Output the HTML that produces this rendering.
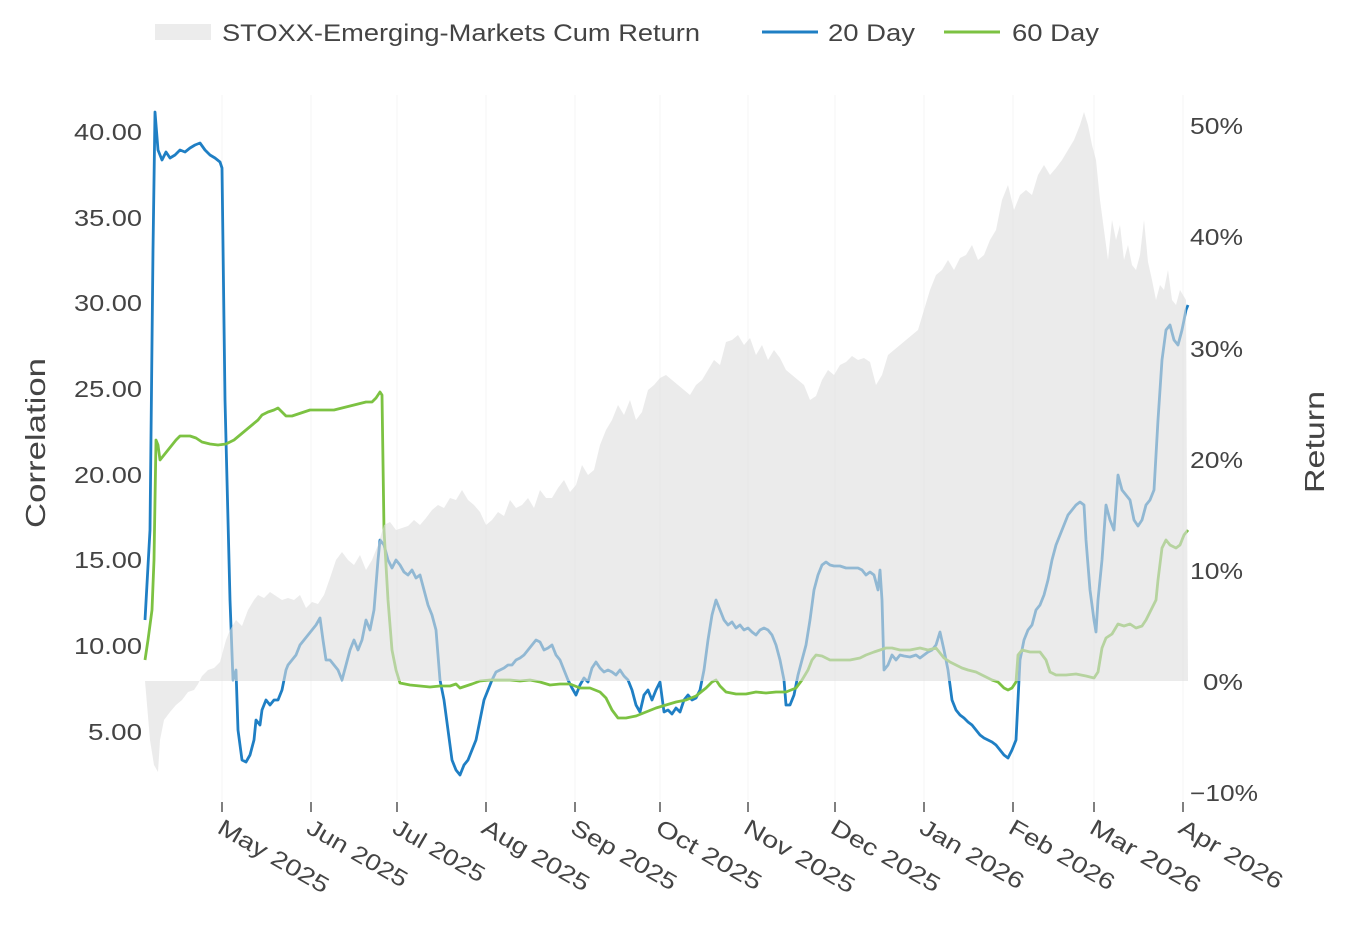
<!DOCTYPE html>
<html><head><meta charset="utf-8"><style>
body{margin:0;background:#fff;}
svg text{font-family:"Liberation Sans",sans-serif;fill:#444;}
</style></head><body>
<svg width="1352" height="921" xmlns="http://www.w3.org/2000/svg">
<g stroke="#f6f6f6" stroke-width="1">
<line x1="222" y1="95" x2="222" y2="800"/><line x1="311" y1="95" x2="311" y2="800"/><line x1="397" y1="95" x2="397" y2="800"/><line x1="486" y1="95" x2="486" y2="800"/><line x1="575" y1="95" x2="575" y2="800"/><line x1="660" y1="95" x2="660" y2="800"/><line x1="748" y1="95" x2="748" y2="800"/><line x1="835" y1="95" x2="835" y2="800"/><line x1="924" y1="95" x2="924" y2="800"/><line x1="1013" y1="95" x2="1013" y2="800"/><line x1="1094" y1="95" x2="1094" y2="800"/><line x1="1183" y1="95" x2="1183" y2="800"/>
</g>
<g stroke="#555" stroke-width="1.5">
<line x1="222" y1="802" x2="222" y2="812"/><line x1="311" y1="802" x2="311" y2="812"/><line x1="397" y1="802" x2="397" y2="812"/><line x1="486" y1="802" x2="486" y2="812"/><line x1="575" y1="802" x2="575" y2="812"/><line x1="660" y1="802" x2="660" y2="812"/><line x1="748" y1="802" x2="748" y2="812"/><line x1="835" y1="802" x2="835" y2="812"/><line x1="924" y1="802" x2="924" y2="812"/><line x1="1013" y1="802" x2="1013" y2="812"/><line x1="1094" y1="802" x2="1094" y2="812"/><line x1="1183" y1="802" x2="1183" y2="812"/>
</g>
<polyline fill="none" stroke="#1f7fc4" stroke-width="2.8" stroke-linejoin="round" points="145,620 150,530 153,250 155,112 158,150 162,160 166,152 170,158 175,155 180,150 185,152 190,148 195,145 200,143 205,150 210,155 215,158 220,162 222,168 225,400 230,600 233,680 236,670 238,730 242,760 246,762 250,755 254,740 256,720 260,725 262,710 266,700 270,705 274,700 278,700 282,690 286,670 288,665 292,660 296,655 300,645 304,640 308,635 312,630 316,625 320,618 323,640 326,660 330,660 334,665 338,670 342,680 346,665 350,650 354,640 358,650 362,640 366,620 370,630 374,610 378,560 380,540 384,545 388,560 392,568 396,560 400,565 404,572 408,575 412,570 416,578 420,575 424,590 428,605 432,615 436,630 440,680 444,700 448,730 452,760 456,770 460,775 464,765 468,760 472,750 476,740 480,720 484,700 488,690 492,680 496,672 500,670 504,668 508,665 512,665 516,660 520,658 524,655 528,650 532,645 536,640 540,642 544,650 548,648 552,645 556,655 560,660 564,670 568,680 572,688 576,695 580,685 584,678 588,682 592,668 596,662 600,668 604,672 608,670 612,672 616,675 620,670 624,676 628,680 632,690 636,705 640,712 644,695 648,690 652,700 656,690 660,682 664,712 668,710 672,714 676,708 680,712 684,700 688,695 692,700 696,698 700,690 704,670 708,640 712,615 716,600 720,610 724,620 728,625 732,622 736,628 740,625 744,630 748,628 752,632 756,635 760,630 764,628 768,630 772,635 776,645 780,660 784,680 786,705 790,705 794,695 798,675 802,660 806,645 810,620 814,590 818,575 822,565 826,562 830,565 834,566 840,566 846,568 852,568 858,568 862,570 866,575 870,572 874,575 878,590 880,570 882,600 884,670 888,665 892,655 896,660 900,655 904,656 910,657 916,655 920,658 924,655 928,652 932,650 936,645 940,632 944,650 948,670 952,700 956,710 960,715 964,718 968,722 972,725 976,730 980,735 984,738 988,740 992,742 996,745 1000,750 1004,755 1008,758 1012,750 1016,740 1018,700 1020,660 1024,640 1028,630 1032,625 1036,610 1040,605 1044,595 1048,580 1052,560 1056,545 1060,535 1064,525 1068,515 1072,510 1076,505 1080,502 1084,505 1086,540 1090,590 1094,620 1096,632 1098,600 1102,560 1106,505 1110,520 1114,530 1118,475 1122,490 1126,495 1130,500 1134,520 1138,526 1142,520 1146,505 1150,500 1154,490 1158,420 1162,360 1166,330 1170,325 1174,340 1178,345 1182,330 1186,310 1188,305"/>
<polyline fill="none" stroke="#7cc242" stroke-width="2.8" stroke-linejoin="round" points="145,660 148,640 152,610 154,560 156,440 158,445 160,460 164,455 168,450 172,445 176,440 180,436 184,436 190,436 196,438 202,442 210,444 218,445 226,444 234,440 240,435 246,430 252,425 258,420 262,415 268,412 274,410 278,408 282,412 286,416 292,416 298,414 304,412 310,410 318,410 326,410 334,410 342,408 350,406 358,404 366,402 372,402 376,398 380,392 382,395 384,530 388,600 392,650 396,670 400,683 410,685 420,686 430,687 440,686 450,686 456,684 460,688 466,686 472,684 480,681 490,680 500,680 510,680 520,681 530,680 540,682 550,685 560,684 570,684 580,688 590,688 600,692 606,698 612,710 618,718 626,718 636,716 646,712 656,708 666,705 676,702 686,700 696,696 706,688 712,682 716,680 720,686 726,692 736,694 746,694 756,692 766,693 776,692 786,692 796,688 802,680 808,670 812,660 816,655 822,656 830,660 840,660 850,660 860,658 866,655 874,652 880,650 886,648 892,648 900,650 910,650 920,648 928,650 936,648 944,658 950,662 956,665 962,668 968,670 976,672 984,676 992,680 998,682 1004,688 1008,690 1012,688 1016,682 1018,655 1022,650 1030,652 1040,652 1046,660 1050,672 1056,675 1066,675 1076,674 1086,676 1094,678 1098,672 1102,648 1106,638 1112,634 1118,624 1124,626 1130,624 1136,628 1142,626 1146,620 1152,608 1156,600 1158,580 1162,548 1166,540 1170,545 1176,548 1180,545 1184,535 1188,530"/>
<polygon fill="rgb(222,222,222)" fill-opacity="0.6" points="145,681 150,740 154,765 158,772 160,740 164,720 170,712 176,705 182,700 188,692 194,690 198,684 202,676 208,670 214,668 220,662 226,640 230,630 236,620 242,626 248,610 254,600 258,595 264,598 270,592 276,596 282,600 288,598 294,600 300,595 306,608 312,602 318,604 324,595 330,578 336,560 342,552 348,560 354,565 360,555 366,570 372,560 378,545 384,525 390,522 396,530 402,528 408,526 414,520 420,525 426,518 432,510 438,505 444,508 450,498 456,500 462,490 468,500 474,505 480,512 486,525 492,520 498,512 504,516 510,500 516,508 522,505 528,498 534,508 540,490 546,498 552,498 558,488 564,480 570,492 576,485 582,465 588,475 594,470 600,445 606,430 612,420 618,405 624,415 630,400 636,420 642,412 648,390 654,385 660,378 666,375 672,380 678,385 684,390 690,395 696,385 702,380 708,370 714,360 720,365 726,342 732,340 738,335 744,345 750,338 756,355 762,345 768,360 774,350 780,358 786,370 792,375 798,380 804,385 810,400 816,396 822,380 828,370 834,375 840,365 846,362 852,356 858,360 864,358 870,362 876,385 882,375 888,355 894,350 900,345 906,340 912,335 918,330 924,310 930,290 936,275 942,270 948,260 954,270 960,258 966,255 972,245 978,260 984,255 990,240 996,230 1002,200 1008,185 1014,210 1020,195 1026,190 1032,195 1038,175 1044,165 1050,175 1056,168 1062,160 1068,150 1074,140 1080,125 1084,112 1088,125 1092,145 1096,160 1100,200 1104,230 1108,260 1112,220 1116,240 1120,225 1124,260 1128,245 1132,265 1136,270 1140,255 1144,220 1148,262 1152,280 1156,300 1160,285 1164,290 1168,270 1172,300 1176,305 1180,290 1186,300 1188,681"/>
<g font-size="23" text-anchor="end">
<text x="142" y="140" textLength="68" lengthAdjust="spacingAndGlyphs">40.00</text><text x="142" y="226" textLength="68" lengthAdjust="spacingAndGlyphs">35.00</text><text x="142" y="311" textLength="68" lengthAdjust="spacingAndGlyphs">30.00</text><text x="142" y="397" textLength="68" lengthAdjust="spacingAndGlyphs">25.00</text><text x="142" y="483" textLength="68" lengthAdjust="spacingAndGlyphs">20.00</text><text x="142" y="568" textLength="68" lengthAdjust="spacingAndGlyphs">15.00</text><text x="142" y="654" textLength="68" lengthAdjust="spacingAndGlyphs">10.00</text><text x="142" y="740" textLength="54" lengthAdjust="spacingAndGlyphs">5.00</text>
</g>
<g font-size="23" text-anchor="start">
<text x="1190" y="134" textLength="53" lengthAdjust="spacingAndGlyphs">50%</text><text x="1190" y="245" textLength="53" lengthAdjust="spacingAndGlyphs">40%</text><text x="1190" y="357" textLength="53" lengthAdjust="spacingAndGlyphs">30%</text><text x="1190" y="468" textLength="53" lengthAdjust="spacingAndGlyphs">20%</text><text x="1190" y="579" textLength="53" lengthAdjust="spacingAndGlyphs">10%</text><text x="1203" y="690" textLength="40" lengthAdjust="spacingAndGlyphs">0%</text><text x="1190" y="801" textLength="68" lengthAdjust="spacingAndGlyphs">−10%</text>
</g>
<text font-size="28" transform="translate(45,443) rotate(-90)" text-anchor="middle" textLength="170" lengthAdjust="spacingAndGlyphs">Correlation</text>
<text font-size="28" transform="translate(1324,442) rotate(-90)" text-anchor="middle" textLength="102" lengthAdjust="spacingAndGlyphs">Return</text>
<g font-size="23">
<text transform="translate(216,832) rotate(30)" textLength="124" lengthAdjust="spacingAndGlyphs">May 2025</text>
<text transform="translate(305,832) rotate(30)" textLength="112" lengthAdjust="spacingAndGlyphs">Jun 2025</text>
<text transform="translate(391,832) rotate(30)" textLength="102" lengthAdjust="spacingAndGlyphs">Jul 2025</text>
<text transform="translate(480,832) rotate(30)" textLength="120" lengthAdjust="spacingAndGlyphs">Aug 2025</text>
<text transform="translate(569,832) rotate(30)" textLength="118" lengthAdjust="spacingAndGlyphs">Sep 2025</text>
<text transform="translate(654,832) rotate(30)" textLength="118" lengthAdjust="spacingAndGlyphs">Oct 2025</text>
<text transform="translate(742,832) rotate(30)" textLength="124" lengthAdjust="spacingAndGlyphs">Nov 2025</text>
<text transform="translate(829,832) rotate(30)" textLength="122" lengthAdjust="spacingAndGlyphs">Dec 2025</text>
<text transform="translate(918,832) rotate(30)" textLength="116" lengthAdjust="spacingAndGlyphs">Jan 2026</text>
<text transform="translate(1007,832) rotate(30)" textLength="118" lengthAdjust="spacingAndGlyphs">Feb 2026</text>
<text transform="translate(1088,832) rotate(30)" textLength="124" lengthAdjust="spacingAndGlyphs">Mar 2026</text>
<text transform="translate(1177,832) rotate(30)" textLength="116" lengthAdjust="spacingAndGlyphs">Apr 2026</text>
</g>
<rect x="155" y="24" width="56" height="16" fill="#ececec"/>
<text x="222" y="41" font-size="24" textLength="478" lengthAdjust="spacingAndGlyphs">STOXX-Emerging-Markets Cum Return</text>
<line x1="762" y1="32" x2="818" y2="32" stroke="#1f7fc4" stroke-width="3"/>
<text x="828" y="41" font-size="24" textLength="87" lengthAdjust="spacingAndGlyphs">20 Day</text>
<line x1="944" y1="32" x2="1000" y2="32" stroke="#7cc242" stroke-width="3"/>
<text x="1012" y="41" font-size="24" textLength="87" lengthAdjust="spacingAndGlyphs">60 Day</text>
</svg>
</body></html>
